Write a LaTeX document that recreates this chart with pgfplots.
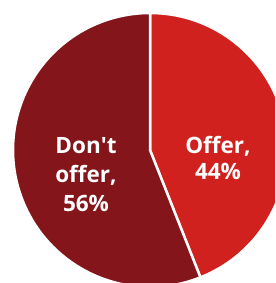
\documentclass[border=0pt]{standalone}
\usepackage{pgfplots}
\pgfplotsset{compat=1.18}
\usepackage{fontspec}
\setmainfont{Open Sans}
\definecolor{offerc}{HTML}{D0211E}
\definecolor{dontc}{HTML}{83151B}
\begin{document}
\begin{tikzpicture}
\useasboundingbox (0,0) rectangle (275pt,283pt);
\fill[white] (0,0) rectangle (275pt,283pt);
\begin{axis}[
  at={(0,0)}, anchor=south west,
  scale only axis, width=275pt, height=283pt,
  xmin=0, xmax=275, ymin=0, ymax=283,
  hide axis, clip=true,
]
% data: Offer 44, Don't offer 56 (percent)
\pgfmathsetmacro{\offer}{44}
\pgfmathsetmacro{\dont}{56}
\pgfmathsetmacro{\aend}{90-\offer*3.6}
\pgfmathsetmacro{\bend}{\aend-\dont*3.6}
\addplot[draw=none] coordinates {(150,133)};
\filldraw[fill=offerc, draw=white, line width=2.5pt, line join=miter]
  (axis cs:150,133) -- ++(0,137) arc[start angle=90, end angle=\aend, radius=137] -- cycle;
\filldraw[fill=dontc, draw=white, line width=2.5pt, line join=miter]
  (axis cs:150,133) -- ++(\aend:137) arc[start angle=\aend, end angle=\bend, radius=137] -- cycle;
\node[text=white, align=center, font=\bfseries\fontsize{22.5}{26}\selectfont] at (axis cs:218,125.5) {Offer,\\44\%};
\node[text=white, align=center, font=\bfseries\fontsize{22.5}{29}\selectfont] at (axis cs:86,108) {Don\textquotesingle t\\offer,\\56\%};
\end{axis}
\end{tikzpicture}
\end{document}
